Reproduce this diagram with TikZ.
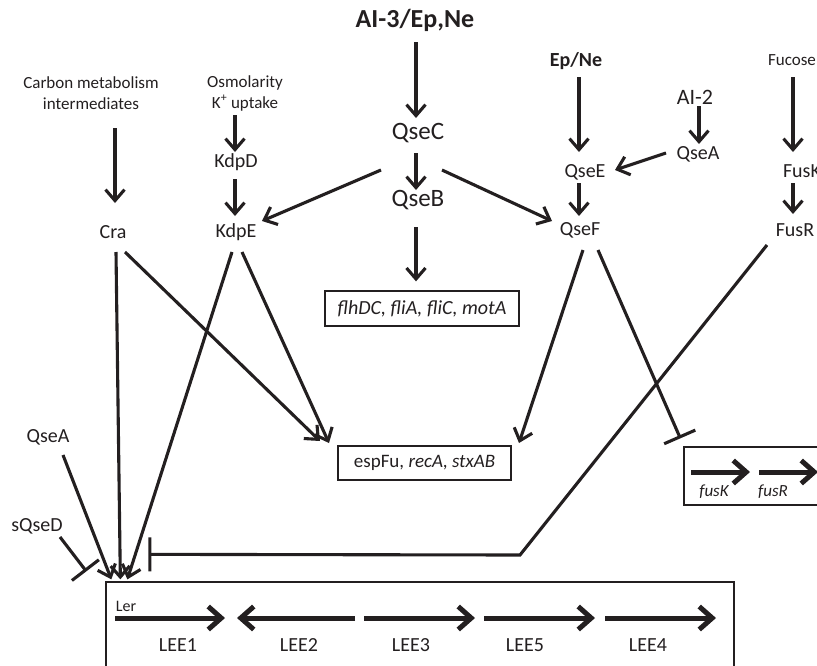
\documentclass[tikz,border=0pt]{standalone}
\usepackage{fontspec}
\setmainfont{Carlito}
\usetikzlibrary{calc, arrows.meta}
\definecolor{ink}{HTML}{231F20}

\begin{document}
\begin{tikzpicture}[x=1pt, y=-1pt, ink,
		sm/.style={font=\fontsize{17}{21}\selectfont, inner sep=0pt, align=center},
		md/.style={font=\fontsize{20}{24}\selectfont, inner sep=0pt},
		mdb/.style={font=\bfseries\fontsize{20}{24}\selectfont, inner sep=0pt},
		lg/.style={font=\fontsize{25}{30}\selectfont, inner sep=0pt},
		lgb/.style={font=\bfseries\fontsize{26}{30}\selectfont, inner sep=0pt},
		genebox/.style={draw, line width=1.3pt, inner sep=0pt},
		act/.style={line width=3.1pt, -{Straight Barb[length=11pt, width=19pt]}},
		inh/.style={line width=3.1pt, -{Bar[width=34pt]}},
		gene/.style={line width=5pt, -{Straight Barb[length=13pt, width=23pt]}}]
		\useasboundingbox (0,0) rectangle (817,665);
		\clip (0,0) rectangle (817,665);
		
		\node[sm] (carbon) at (91,93) {Carbon metabolism\\intermediates};
		\node[sm] (osmo) at (245,93) {Osmolarity\\K\textsuperscript{+} uptake};
		\node[lgb] (ai3) at (415,20) {AI-3/Ep,Ne};
		\node[lg] (qsec) at (418,133) {QseC};
		\node[lg] (qseb) at (418,200) {QseB};
		\node[mdb] (epne) at (576,61) {Ep/Ne};
		\node[md, font=\fontsize{22}{26}\selectfont] (ai2) at (695,97) {AI-2};
		\node[md] (qsea) at (698,154) {QseA};
		\node[md] (qsee) at (585,172) {QseE};
		\node[md] (qsef) at (580,230) {QseF};
		\node[sm] (fucose) at (792,60) {Fucose};
		\node[md] (fusk) at (802,171) {FusK};
		\node[md] (fusr) at (795,230) {FusR};
		\node[md] (kdpd) at (236,162) {KdpD};
		\node[md] (kdpe) at (236,232) {KdpE};
		\node[md] (cra) at (113,232) {Cra};
		\node[md] (qseal) at (48,437) {QseA};
		\node[md] (sqsed) at (37,526) {sQseD};
		
		\node[genebox, minimum width=194pt, minimum height=35pt, font=\itshape\fontsize{20}{24}\selectfont] (flh) at (422,308.5) {flhDC, fliA, fliC, motA};
		\node[genebox, minimum width=173pt, minimum height=34pt, font=\fontsize{19}{23}\selectfont] (esp) at (424.5,463) {espFu, \textit{recA}, \textit{stxAB}};
		\node[genebox, minimum width=160pt, minimum height=58pt] (fusbox) at (764,476) {};
		\node[genebox, minimum width=628pt, minimum height=100pt] (ler) at (420,632) {};
		
		\draw[act] ($(carbon)+(24,35)$) -- ($(cra)+(2,-29)$);
		\draw[act] ($(osmo)+(-10,22)$) -- ($(kdpd)+(-1,-10)$);
		\draw[act] ($(kdpd)+(-1,17)$) -- ($(kdpe)+(-1,-16)$);
		\draw[act] ($(ai3)+(1,22)$) -- ($(qsec)+(-2,-15)$);
		\draw[act] ($(qsec)+(-2,20)$) -- ($(qseb)+(-2,-10)$);
		\draw[act] ($(qseb)+(-2,27)$) -- ($(flh.north)+(-6,-9)$);
		\draw[act] ($(qsec)+(-37,37)$) -- ($(kdpe)+(26,-11)$);
		\draw[act] ($(qsec)+(24,37)$) -- ($(qsef)+(-28,-9)$);
		\draw[act] ($(epne)+(3,16)$) -- ($(qsee)+(-6,-20)$);
		\draw[act] ($(ai2)+(4,9)$) -- ($(qsea)+(1,-10)$);
		\draw[act] ($(qsea)+(-32,-1)$) -- ($(qsee)+(30,-2)$);
		\draw[act] ($(qsee)+(-6,11)$) -- ($(qsef)+(-1,-14)$);
		\draw[act] ($(fucose)+(1,17)$) -- ($(fusk)+(-9,-19)$);
		\draw[act] ($(fusk)+(-9,12)$) -- ($(fusr)+(-2,-16)$);
		
		\draw[act] ($(cra)+(12,20)$) -- ($(esp)+(-104.5,-22)$);
		\draw[act] ($(kdpe)+(6,20)$) -- ($(esp)+(-95.5,-20)$);
		\draw[act] ($(qsef)+(3,20)$) -- ($(esp)+(94.5,-20)$);
		\draw[act] ($(qseal)+(15,18)$) -- ($(ler.north west)+(6,-2)$);
		\draw[act] ($(cra)+(3,20)$) -- ($(ler.north west)+(15,-2)$);
		\draw[act] ($(kdpe)+(-4,20)$) -- ($(ler.north west)+(22,-2)$);
		
		\draw[inh] ($(qsef)+(18,20)$) -- ($(fusbox.north west)+(-3,-8)$);
		\draw[inh] ($(fusr)+(-28,15)$) -- (520,555) -- ($(ler.north west)+(43,-27)$);
		\draw[inh] ($(sqsed)+(23,11)$) -- ($(ler.north west)+(-19,-10)$);
		
		\draw[gene] (115,618) -- (225,618);
		\draw[gene] (355,618) -- (237,618);
		\draw[gene] (364,618) -- (475,618);
		\draw[gene] (484,618) -- (595,618);
		\draw[gene] (605,618) -- (716,618);
		\node[md, font=\fontsize{16}{19}\selectfont] (lerlbl) at (126,606) {Ler};
		\node[md] (lee1) at (178,645) {LEE1};
		\node[md] (lee2) at (299,645) {LEE2};
		\node[md] (lee3) at (411,645) {LEE3};
		\node[md] (lee5) at (525,645) {LEE5};
		\node[md] (lee4) at (648,645) {LEE4};
		
		\draw[gene] (691,472) -- (750,472);
		\draw[gene] (759,472) -- (818,472);
		\node[md, font=\itshape\fontsize{17}{20}\selectfont] (fusklbl) at (714,492) {fusK};
		\node[md, font=\itshape\fontsize{17}{20}\selectfont] (fusrlbl) at (773,492) {fusR};
	\end{tikzpicture}
\end{document}
